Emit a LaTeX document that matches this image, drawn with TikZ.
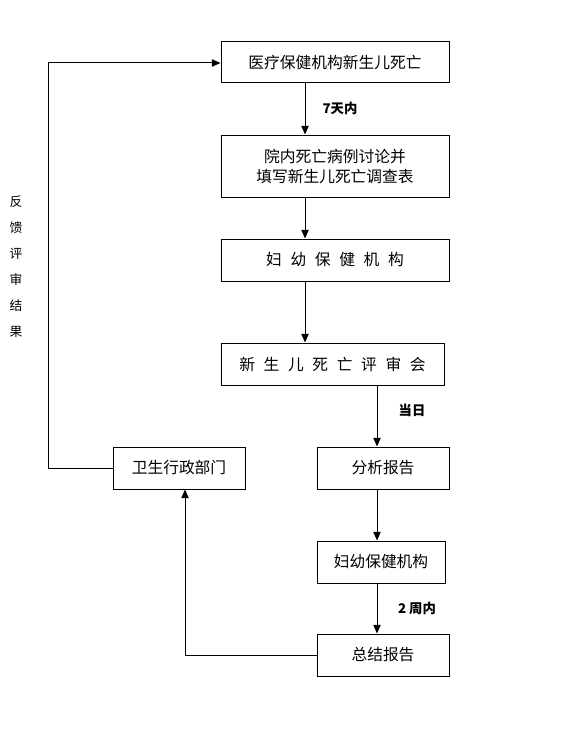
\documentclass[tikz,border=0pt]{standalone}
\usepackage{fontspec}
\setmainfont{Noto Sans CJK SC}
\usetikzlibrary{arrows.meta}
\newcommand{\gp}{\hspace{0.55em}}
\begin{document}
\begin{tikzpicture}[x=0.75pt,y=-0.75pt,
  box/.style={draw,line width=0.75pt,inner sep=0pt,font=\fontsize{11.8}{15}\selectfont,align=center},
  conn/.style={line width=0.75pt,-{Triangle[length=6.5pt,width=5.5pt]}},
  lab/.style={font=\fontsize{10}{12}\selectfont\bfseries}]
\useasboundingbox (0,0) rectangle (576,749);
\node[box,minimum width=228*0.75pt,minimum height=41*0.75pt] (b1) at (335,62.5) {医疗保健机构新生儿死亡};
\node[box,minimum width=228*0.75pt,minimum height=62*0.75pt] (b2) at (335,166) {院内死亡病例讨论并\\填写新生儿死亡调查表};
\node[box,minimum width=228*0.75pt,minimum height=42*0.75pt] (b3) at (335,260) {妇\gp 幼\gp 保\gp 健\gp 机\gp 构};
\node[box,minimum width=223*0.75pt,minimum height=42*0.75pt] (b4) at (332.5,364) {新\gp 生\gp 儿\gp 死\gp 亡\gp 评\gp 审\gp 会};
\node[box,minimum width=132*0.75pt,minimum height=42*0.75pt] (b5) at (179,468) {卫生行政部门};
\node[box,minimum width=132*0.75pt,minimum height=42*0.75pt] (b6) at (383,468) {分析报告};
\node[box,minimum width=128*0.75pt,minimum height=42*0.75pt] (b7) at (381,562) {妇幼保健机构};
\node[box,minimum width=132*0.75pt,minimum height=42*0.75pt] (b8) at (383,655) {总结报告};
\coordinate (v1) at (305,0);
\coordinate (v2) at (377,0);
\draw[conn] (b1.south -| v1) -- (b2.north -| v1);
\draw[conn] (b2.south -| v1) -- (b3.north -| v1);
\draw[conn] (b3.south -| v1) -- (b4.north -| v1);
\draw[conn] (b4.south -| v2) -- (b6.north -| v2);
\draw[conn] (b6.south -| v2) -- (b7.north -| v2);
\draw[conn] (b7.south -| v2) -- (b8.north -| v2);
\coordinate (c1) at (185,655);
\draw[conn] (b8.west) -- (c1) -- (b5.south -| c1);
\coordinate (f1) at (48,468);
\coordinate (f2) at (48,63);
\draw[conn] (b5.west) -- (f1) -- (f2) -- (b1.west |- f2);
\node[lab] (l1) at (340,108) {7天内};
\node[lab] (l2) at (412,410) {当日};
\node[lab] (l3) at (417,608) {2 周内};
\node[font=\fontsize{9.6}{19.5}\selectfont,align=center] (fb) at (16,267) {反\\馈\\评\\审\\结\\果};
\end{tikzpicture}
\end{document}
